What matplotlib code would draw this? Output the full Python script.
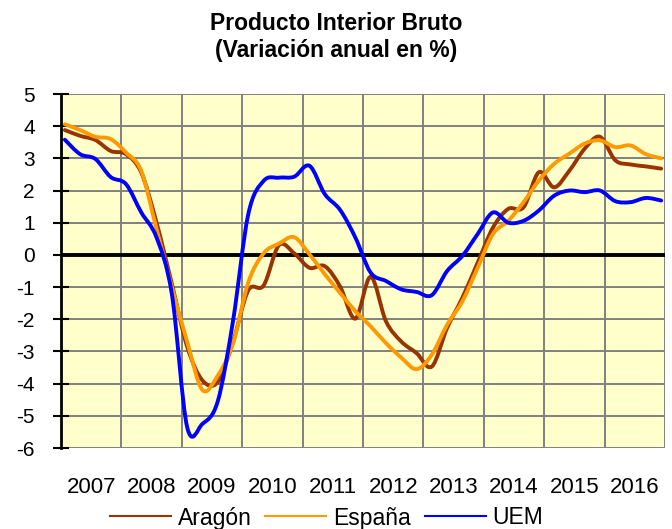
import matplotlib as mpl

mpl.use('Agg')

import matplotlib.pyplot as plt
import numpy as np
from matplotlib.path import Path
from matplotlib.patches import PathPatch
from matplotlib.lines import Line2D

plt.rcParams['font.family'] = ['Liberation Sans', 'DejaVu Sans']
plt.rcParams['axes.unicode_minus'] = False

# quarterly data 2007Q1 - 2016Q4 (variacion anual en %)
years = ['2007', '2008', '2009', '2010', '2011', '2012', '2013', '2014', '2015', '2016']

aragon = [3.88, 3.70, 3.57, 3.23, 3.13, 2.56, 1.00, -0.90,
          -2.85, -3.90, -3.95, -2.70, -1.10, -0.95, 0.30, 0.05,
          -0.40, -0.35, -0.98, -1.98, -0.68, -2.06, -2.69, -3.05,
          -3.47, -2.27, -1.33, -0.24, 0.85, 1.43, 1.48, 2.57,
          2.10, 2.62, 3.30, 3.67, 2.94, 2.81, 2.75, 2.68]

espana = [4.06, 3.88, 3.67, 3.60, 3.18, 2.61, 0.80, -1.00,
          -2.70, -4.20, -3.75, -2.75, -0.85, 0.05, 0.35, 0.55,
          0.02, -0.60, -1.18, -1.75, -2.22, -2.74, -3.19, -3.55,
          -3.10, -2.17, -1.44, -0.40, 0.65, 1.06, 1.64, 2.31,
          2.83, 3.15, 3.46, 3.56, 3.35, 3.40, 3.13, 3.00]

uem = [3.58, 3.13, 2.98, 2.42, 2.20, 1.32, 0.54, -1.22,
       -5.35, -5.25, -4.55, -2.05, 1.27, 2.30, 2.40, 2.43,
       2.77, 1.89, 1.40, 0.54, -0.55, -0.81, -1.07, -1.15,
       -1.25, -0.50, -0.03, 0.65, 1.32, 1.00, 1.06, 1.38,
       1.84, 2.00, 1.95, 2.00, 1.67, 1.64, 1.77, 1.69]

series = [('Aragón', aragon, '#993300'),
          ('España', espana, '#FF9900'),
          ('UEM', uem, '#0000FF')]


def smooth_path(xs, ys):
    # smoothed line through the data points (like Excel's smoothed lines)
    pts = np.column_stack([xs, ys])
    n = len(pts)
    verts = [pts[0]]
    codes = [Path.MOVETO]
    for i in range(n - 1):
        p0 = pts[i - 1] if i > 0 else pts[i]
        p1 = pts[i]
        p2 = pts[i + 1]
        p3 = pts[i + 2] if i + 2 < n else pts[i + 1]
        verts += [p1 + (p2 - p0) / 6, p2 - (p3 - p1) / 6, p2]
        codes += [Path.CURVE4] * 3
    return Path(verts, codes)


x = np.arange(len(aragon))
x0, x1 = -0.25, len(aragon) - 0.75
bounds = np.linspace(x0, x1, len(years) + 1)
centers = (bounds[:-1] + bounds[1:]) / 2

fig = plt.figure(figsize=(6.72, 5.29), dpi=100)
ax = fig.add_axes([61 / 672, 1 - 448 / 529, 604 / 672, 354 / 529])
ax.set_facecolor('#FFFFCC')

# grid
for b in bounds:
    ax.axvline(b, color='#808080', lw=1.4, zorder=1)
for yv in range(-6, 6):
    ax.axhline(yv, color='#808080', lw=1.4, zorder=1)
ax.axhline(0, color='black', lw=2.8, zorder=2)

handles = []
for name, vals, col in series:
    ax.add_patch(PathPatch(smooth_path(x, vals), facecolor='none',
                           edgecolor=col, lw=2.8, capstyle='round',
                           joinstyle='round', zorder=3))
    handles.append(Line2D([], [], color=col, lw=1.5, label=name))

ax.set_xlim(x0, x1)
ax.set_ylim(-6, 5)
ax.set_yticks(range(-6, 6))
ax.tick_params(axis='y', direction='inout', length=11.5, width=1.5,
               labelsize=15, pad=13)
ax.set_xticks(centers)
ax.set_xticklabels(years)
ax.tick_params(axis='x', length=0, labelsize=16, pad=21)

for s in ['top', 'right', 'bottom']:
    ax.spines[s].set_visible(False)
ax.spines['left'].set_linewidth(2)

fig.text(0.5, 1 - 24 / 529, 'Producto Interior Bruto', ha='center',
         va='center', fontsize=16.5, fontweight='bold')
fig.text(0.5, 1 - 50 / 529, '(Variación anual en %)', ha='center',
         va='center', fontsize=16.5, fontweight='bold')

fig.legend(handles=handles, loc='center left',
           bbox_to_anchor=(110 / 672, 1 - 518 / 529),
           ncol=3, frameon=False, fontsize=16.5, borderpad=0,
           borderaxespad=0, handlelength=2.66, handletextpad=0.3,
           columnspacing=0.6)

plt.savefig('out.png', dpi=100)
